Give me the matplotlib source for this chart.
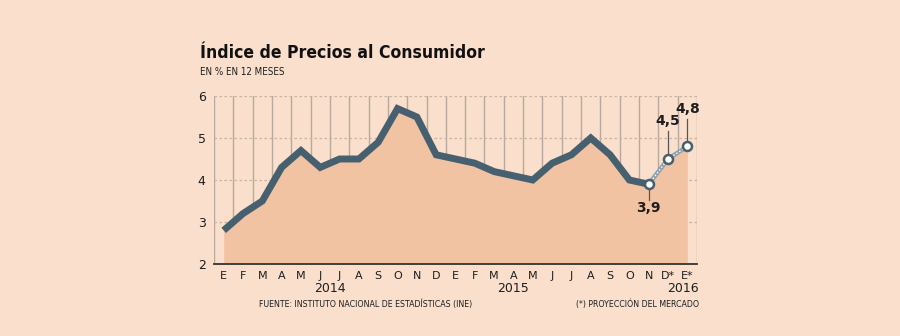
import matplotlib
matplotlib.use("Agg")
import matplotlib.pyplot as plt
import numpy as np

months = ["E", "F", "M", "A", "M", "J", "J", "A", "S", "O", "N", "D",
          "E", "F", "M", "A", "M", "J", "J", "A", "S", "O", "N", "D*", "E*"]
ipc = [2.8, 3.2, 3.5, 4.3, 4.7, 4.3, 4.5, 4.5, 4.9, 5.7, 5.5, 4.6,
       4.5, 4.4, 4.2, 4.1, 4.0, 4.4, 4.6, 5.0, 4.6, 4.0, 3.9, 4.5, 4.8]
n_observed = 23          # E 2014 .. N 2015 are observed; D*, E* are projections
years = ["2014", "2015", "2016"]
year_pos = [5.5, 15.0, 24.5]
labelled = {22: "3,9", 23: "4,5", 24: "4,8"}

BG = "#f9dfcc"
FILL = "#f2c3a3"
LINE = "#46606f"
PROJ = "#8fa2ae"
GRID = "#b9a99c"
TXT = "#1e1e1e"

fig = plt.figure(figsize=(9, 3.36), dpi=100, facecolor=BG)
ax = fig.add_axes([214/900, 72/336, (697-214)/900, 168/336])
ax.set_facecolor(BG)

x = np.arange(len(ipc))
y = np.array(ipc)

ax.fill_between(x, 2, y, color=FILL, lw=0, zorder=1)

# vertical separators between months
for xv in np.arange(-0.5, len(ipc), 1.0):
    ax.axvline(xv, color=GRID, lw=1.0, zorder=0.5)
# dotted horizontal grid
for yv in [3, 4, 5, 6]:
    ax.axhline(yv, color="#c9b3a3", lw=0.9, ls=(0, (2, 2)), zorder=0.6)

ax.plot(x[:n_observed], y[:n_observed], color=LINE, lw=5,
        solid_joinstyle="miter", solid_capstyle="butt", zorder=3)
ax.plot(x[n_observed-1:], y[n_observed-1:], color=PROJ, lw=3.2, zorder=3)
ax.plot(x[n_observed-1:], y[n_observed-1:], color="white", lw=1.0,
        ls=(0, (1, 1.5)), zorder=3.1)
ax.plot(x[n_observed-1:], y[n_observed-1:], ls="none", marker="o", ms=6.5,
        mfc="white", mec=LINE, mew=1.8, zorder=4)

for i, txt in labelled.items():
    v = ipc[i]
    if i == n_observed - 1:
        ax.plot([i, i], [v - 0.1, v - 0.38], color="#555555", lw=0.9, zorder=2)
        ax.text(i, v - 0.57, txt, ha="center", va="center", fontsize=10,
                fontweight="bold", color=TXT)
    else:
        ax.plot([i, i], [v + 0.1, v + 0.66], color="#555555", lw=0.9, zorder=2)
        ax.text(i, v + 0.9, txt, ha="center", va="center", fontsize=10,
                fontweight="bold", color=TXT)

ax.set_xlim(-0.5, len(ipc) - 0.5)
ax.set_ylim(2, 6)
ax.set_yticks([2, 3, 4, 5, 6])
ax.set_yticklabels(["2", "3", "4", "5", "6"], fontsize=9, color=TXT)
ax.set_xticks(x)
ax.set_xticklabels(months, fontsize=8, color=TXT)
ax.tick_params(axis="both", length=0, pad=5)
ax.tick_params(axis="y", pad=6)
for s in ["top", "right", "left"]:
    ax.spines[s].set_visible(False)
ax.spines["bottom"].set_color("#333333")
ax.spines["bottom"].set_linewidth(1.3)
ax.spines["bottom"].set_zorder(5)

xt = ax.get_xaxis_transform()
for yr, p in zip(years, year_pos):
    ha = "right" if yr == "2016" else "center"
    xp = p + (0.1 if yr == "2016" else 0)
    ax.text(xp, -25/168, yr, transform=xt, ha=ha, va="center",
            fontsize=9, color=TXT)

cond = dict(family="DejaVu Sans", fontstretch="condensed")
fig.text(200/900, 1 - 53/336, "Índice de Precios al Consumidor", fontsize=12.6,
         fontweight="bold", color="#111111", va="center", ha="left", **cond)
fig.text(200/900, 1 - 72/336, "EN % EN 12 MESES", fontsize=7,
         color=TXT, va="center", ha="left", **cond)
fig.text(259/900, 1 - 304/336, "FUENTE: INSTITUTO NACIONAL DE ESTADÍSTICAS (INE)",
         fontsize=6.3, color=TXT, va="center", ha="left", **cond)
fig.text(699/900, 1 - 304/336, "(*) PROYECCIÓN DEL MERCADO",
         fontsize=6.3, color=TXT, va="center", ha="right", **cond)

fig.savefig("out.png", dpi=100, facecolor=BG)
